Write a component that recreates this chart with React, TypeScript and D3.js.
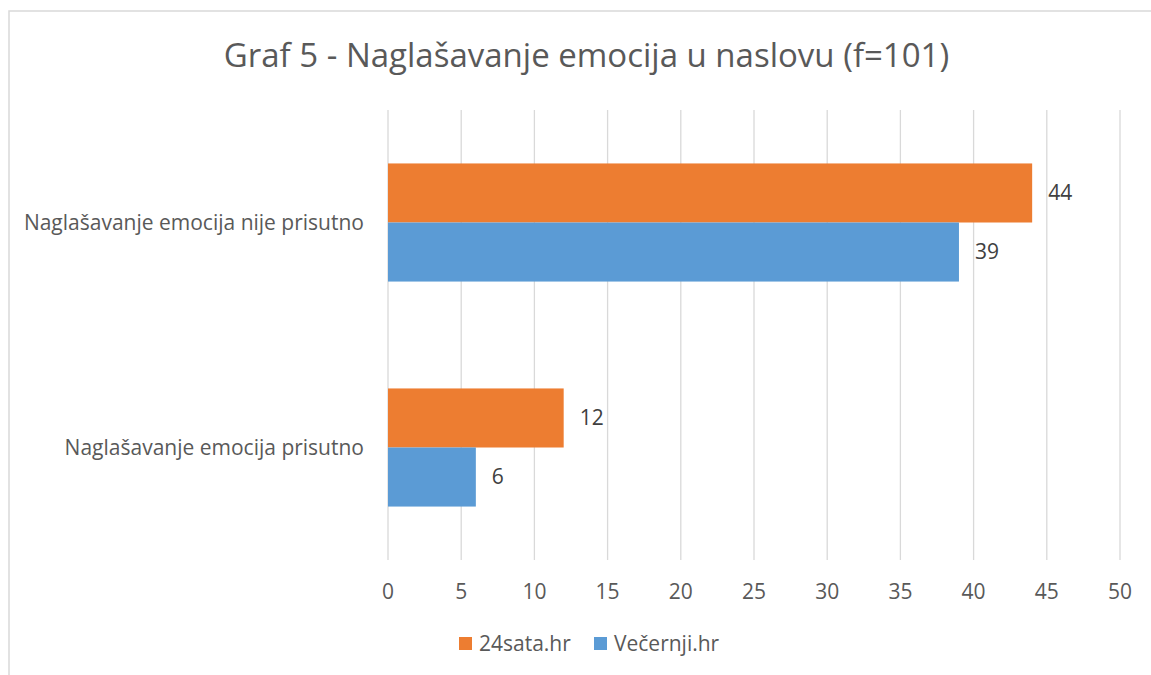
import React from 'react';
import * as d3 from 'd3';

const categories = ['Naglašavanje emocija nije prisutno', 'Naglašavanje emocija prisutno'];
const seriesNames = ['24sata.hr', 'Večernji.hr'];
const values24sata = [44, 12];
const valuesVecernji = [39, 6];
const xTicks = [0, 5, 10, 15, 20, 25, 30, 35, 40, 45, 50];

const colors = ['#ED7D31', '#5B9BD5'];
const textColor = '#595959';
const gridColor = '#D9D9D9';
const font = '"Open Sans", sans-serif';
const labelSize = 21;

const width = 1151;
const height = 675;
const plot = { left: 388, right: 1120, top: 110, bottom: 560 };

const App = () => {
    const x = d3.scaleLinear().domain([0, 50]).range([plot.left, plot.right]);
    const y = d3.scaleBand().domain(categories).range([plot.top, plot.bottom]).padding(0);
    const ySeries = d3.scaleBand()
        .domain(seriesNames)
        .range([0, y.bandwidth()])
        .paddingInner(0)
        .paddingOuter(0.905);

    const seriesValues = [values24sata, valuesVecernji];

    return (
        <div style={{ position: 'absolute', left: 0, top: 0 }}>
            <svg width={width} height={height} style={{ display: 'block', fontFamily: font }}>
                <rect x={0} y={0} width={width} height={height} fill="white" />
                <rect x={9} y={11} width={width + 20} height={height + 20} fill="white" stroke={gridColor} strokeWidth={1.5} />

                <text x={586.5} y={67} textAnchor="middle" fontSize={33} fill={textColor}>
                    Graf 5 - Naglašavanje emocija u naslovu (f=101)
                </text>

                {/* gridlines */}
                {xTicks.map(t => (
                    <line key={t} x1={x(t)} x2={x(t)} y1={plot.top} y2={plot.bottom} stroke={gridColor} strokeWidth={1.3} />
                ))}

                {/* bars */}
                {categories.map((c, i) => (
                    <g key={c} transform={`translate(0,${y(c)})`}>
                        {seriesNames.map((s, j) => {
                            const v = seriesValues[j][i];
                            const by = ySeries(s)!;
                            return (
                                <g key={s}>
                                    <rect x={x(0)} y={by} width={x(v) - x(0)} height={ySeries.bandwidth()} fill={colors[j]} />
                                    <text x={x(v) + 16} y={by + ySeries.bandwidth() / 2} dy="0.35em" fontSize={labelSize} fill="#404040">
                                        {v}
                                    </text>
                                </g>
                            );
                        })}
                    </g>
                ))}

                {/* category labels */}
                {categories.map(c => (
                    <text key={c} x={364} y={y(c)! + y.bandwidth() / 2} dy="0.35em" textAnchor="end" fontSize={labelSize} fill={textColor}>
                        {c}
                    </text>
                ))}

                {/* x tick labels */}
                {xTicks.map(t => (
                    <text key={t} x={x(t)} y={592} dy="0.35em" textAnchor="middle" fontSize={labelSize} fill={textColor}>
                        {t}
                    </text>
                ))}

                {/* legend */}
                <g transform="translate(459,637)">
                    <rect x={0} y={0} width={13} height={13} fill={colors[0]} />
                    <text x={20} y={6.5} dy="0.35em" fontSize={labelSize} fill={textColor}>{seriesNames[0]}</text>
                    <rect x={135} y={0} width={13} height={13} fill={colors[1]} />
                    <text x={155} y={6.5} dy="0.35em" fontSize={labelSize} fill={textColor}>{seriesNames[1]}</text>
                </g>
            </svg>
        </div>
    );
};

export default App;
